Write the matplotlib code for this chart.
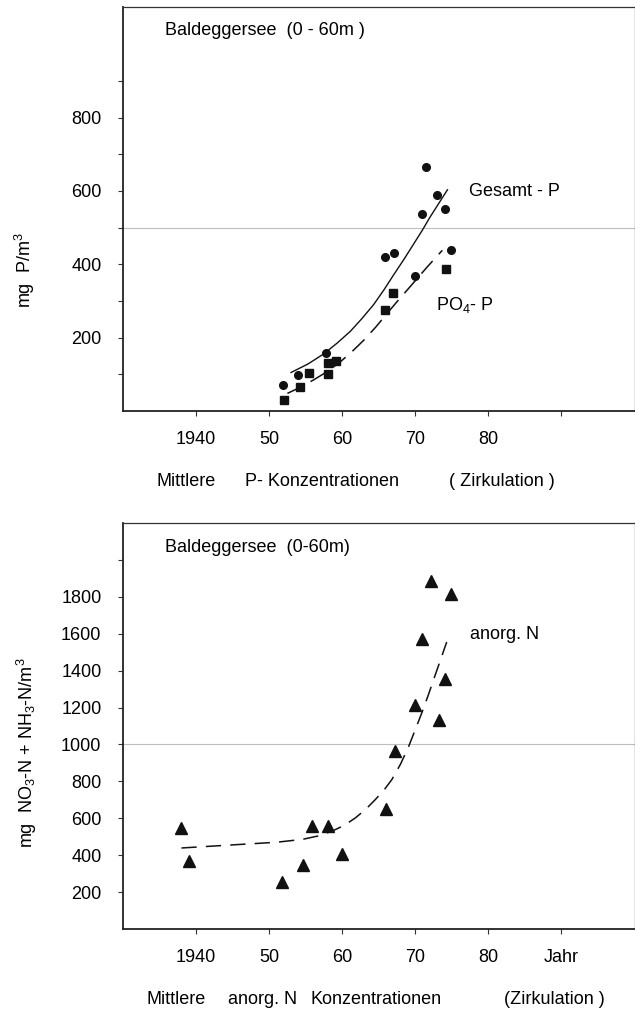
import matplotlib
matplotlib.use("Agg")
import matplotlib.pyplot as plt

plt.rcParams['font.family'] = ['Liberation Sans', 'DejaVu Sans']
plt.rcParams['mathtext.fontset'] = 'custom'
plt.rcParams['mathtext.rm'] = 'Liberation Sans'
plt.rcParams['mathtext.it'] = 'Liberation Sans'
plt.rcParams['mathtext.default'] = 'regular'

# ---------------- data ----------------
# Top panel: Gesamt-P (circles) and PO4-P (squares), mg P/m3
gesamt_years = [1951.9, 1953.9, 1957.8, 1965.9, 1967.1, 1969.9, 1970.9,
                1971.5, 1973.0, 1974.1, 1974.9]
gesamt_vals = [71, 98, 157, 420, 432, 369, 537, 665, 590, 551, 438]
po4_years = [1952.1, 1954.2, 1955.4, 1958.0, 1958.0, 1959.1, 1965.9,
             1967.0, 1974.2]
po4_vals = [30, 65, 103, 101, 132, 137, 276, 323, 387]
# fitted curves as drawn
gesamt_curve_years = [1953.0, 1955.3, 1957.5, 1959.3, 1961.1, 1962.7,
                      1964.3, 1965.7, 1967.0, 1968.4, 1969.8, 1971.0,
                      1972.0, 1974.4]
gesamt_curve_vals = [105, 128, 156, 185, 217, 252, 290, 330, 370, 412,
                     456, 494, 528, 603]
po4_curve_years = [1952.5, 1954.3, 1956.1, 1958.0, 1959.8, 1961.4, 1963.0,
                   1964.6, 1966.1, 1967.5, 1968.9, 1970.3, 1971.6, 1973.7]
po4_curve_vals = [48, 65, 85, 108, 135, 163, 194, 229, 265, 298, 330, 362,
                  392, 438]

# Bottom panel: anorg. N (triangles), mg N/m3
n_years = [1938.0, 1939.0, 1951.8, 1954.7, 1955.8, 1958.0, 1960.0, 1966.0,
           1967.2, 1970.0, 1973.2, 1974.1, 1970.9, 1972.1, 1974.9]
n_vals = [547, 366, 252, 348, 556, 556, 408, 652, 964, 1214, 1132, 1353,
          1571, 1888, 1815]
n_curve_years = [1938.0, 1945.5, 1951.0, 1954.6, 1956.8, 1958.6, 1960.3,
                 1961.8, 1963.2, 1964.5, 1965.7, 1966.8, 1968.0, 1969.1,
                 1970.0, 1970.9, 1971.8, 1972.7, 1974.3]
n_curve_vals = [439, 457, 470, 486, 505, 530, 562, 602, 648, 700, 752,
                810, 895, 990, 1080, 1172, 1270, 1373, 1555]

x_ticks = [1940, 1950, 1960, 1970, 1980, 1990]
x_labels_top = ['1940', '50', '60', '70', '80', '']
x_labels_bottom = ['1940', '50', '60', '70', '80', 'Jahr']
y_ticks_top = [100, 200, 300, 400, 500, 600, 700, 800, 900]
y_labels_top = ['', '200', '', '400', '', '600', '', '800', '']
y_ticks_bottom = [200, 400, 600, 800, 1000, 1200, 1400, 1600, 1800, 2000]
y_labels_bottom = ['200', '400', '600', '800', '1000', '1200', '1400',
                   '1600', '1800', '']

# ---------------- figure ----------------
W, H = 635, 1011
fig = plt.figure(figsize=(W / 100, H / 100), dpi=100)

def ax_rect(left, top, right, bottom):
    return [left / W, 1 - bottom / H, (right - left) / W, (bottom - top) / H]

ax1 = fig.add_axes(ax_rect(123, 7.5, 634.5, 411))
ax2 = fig.add_axes(ax_rect(123, 523, 634.5, 929))

FS = 13

def style(ax, ylim, yt, yl, xl):
    ax.set_xlim(1930, 2000)
    ax.set_ylim(0, ylim)
    ax.set_xticks(x_ticks)
    ax.set_xticklabels(xl, fontsize=FS)
    ax.set_yticks(yt)
    ax.set_yticklabels(yl, fontsize=FS)
    ax.tick_params(axis='both', direction='out', length=3.5, width=0.8,
                   color='#333333')
    ax.tick_params(axis='y', pad=12)
    ax.tick_params(axis='x', pad=11)
    for s in ['left', 'bottom']:
        ax.spines[s].set_linewidth(1.3)
        ax.spines[s].set_color('#222222')
    for s in ['top', 'right']:
        ax.spines[s].set_linewidth(0.9)
        ax.spines[s].set_color('#333333')

style(ax1, 1100, y_ticks_top, y_labels_top, x_labels_top)
style(ax2, 2200, y_ticks_bottom, y_labels_bottom, x_labels_bottom)

# faint scan lines
ax1.axhline(500, color='#bdbdbd', lw=0.8, zorder=0)
ax2.axhline(1000, color='#bdbdbd', lw=0.8, zorder=0)

# top panel marks
ax1.plot(gesamt_curve_years, gesamt_curve_vals, color='#111111', lw=1.0)
ax1.plot(po4_curve_years, po4_curve_vals, color='#111111', lw=1.1,
         dashes=(11, 6))
ax1.plot(gesamt_years, gesamt_vals, 'o', color='#111111', ms=5.5,
         mec='#111111')
ax1.plot(po4_years, po4_vals, 's', color='#111111', ms=5.2, mec='#111111')

ax1.text(0.082, 0.932, 'Baldeggersee  (0 - 60m )', transform=ax1.transAxes,
         fontsize=FS, ha='left', va='baseline')
ax1.text(1977.3, 585, 'Gesamt - P', fontsize=FS, ha='left', va='baseline')
ax1.text(1972.8, 274, 'PO$_4$- P', fontsize=FS, ha='left', va='baseline')

# bottom panel marks
ax2.plot(n_curve_years, n_curve_vals, color='#111111', lw=1.1,
         dashes=(10, 6))
ax2.plot(n_years, n_vals, '^', color='#111111', ms=8, mec='#111111')

ax2.text(0.082, 0.929, 'Baldeggersee  (0-60m)', transform=ax2.transAxes,
         fontsize=FS, ha='left', va='baseline')
ax2.text(1977.5, 1571, 'anorg. N', fontsize=FS, ha='left', va='baseline')

# y labels
fig.text(25 / W, 1 - 270 / H, 'mg  P/m$^3$', rotation=90, fontsize=FS,
         ha='center', va='center')
fig.text(27 / W, 1 - 753 / H, 'mg  NO$_3$-N + NH$_3$-N/m$^3$', rotation=90,
         fontsize=FS, ha='center', va='center')

# x labels (pieces)
def ftext(x, y, s):
    fig.text(x / W, 1 - y / H, s, fontsize=FS, ha='left', va='baseline')

ftext(157, 486, 'Mittlere')
ftext(245, 486, 'P- Konzentrationen')
ftext(449, 486, '( Zirkulation )')
ftext(146, 1004, 'Mittlere')
ftext(228, 1004, 'anorg. N')
ftext(310, 1004, 'Konzentrationen')
ftext(504, 1004, '(Zirkulation )')

fig.savefig('out.png', dpi=100)
